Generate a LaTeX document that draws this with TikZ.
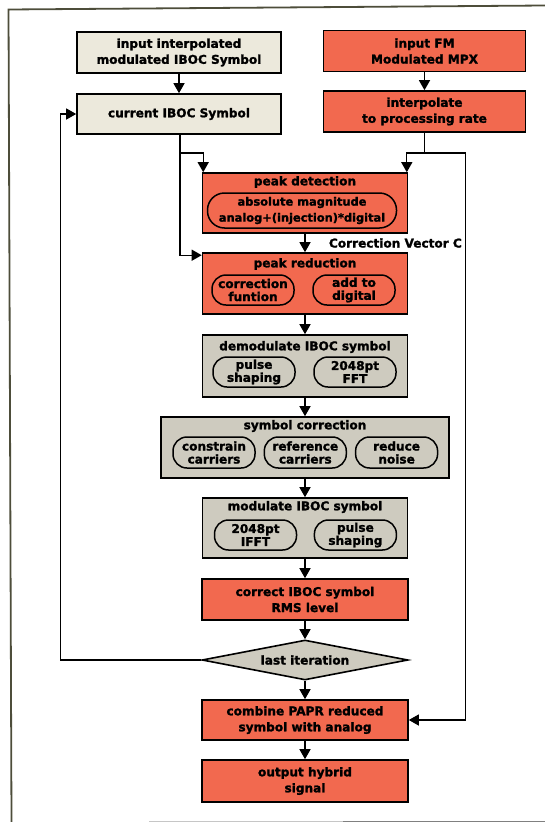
\documentclass[tikz,border=0pt]{standalone}
\usepackage{fontspec}
\setmainfont{DejaVu Sans}[BoldFeatures={FakeBold=1.6}]
\usetikzlibrary{arrows.meta,shapes.geometric,calc}
\definecolor{redbox}{HTML}{F2694F}
\definecolor{beigebox}{HTML}{ECE9DC}
\definecolor{graybox}{HTML}{CECBBF}
\definecolor{framecol}{HTML}{4D4D3A}
\begin{document}
\begin{tikzpicture}[x=1pt,y=-1pt,
  txt/.style={font=\bfseries\fontsize{12.1}{16}\selectfont, align=center, text=black, inner sep=0pt},
  ptxt/.style={font=\bfseries\fontsize{12.1}{13}\selectfont, align=center, text=black},
  box/.style={draw=black, line width=1.6pt, rectangle, inner sep=0pt, txt},
  redb/.style={box, fill=redbox},
  beigeb/.style={box, fill=beigebox},
  grayb/.style={box, fill=graybox},
  pill/.style={rectangle, rounded corners=14pt, draw=black, line width=1.5pt, inner sep=0pt, ptxt, minimum width=82, minimum height=30},
  conn/.style={line width=1.3pt, -{Triangle[length=10pt,width=11pt]}},
  plain/.style={line width=1.3pt}
]
\useasboundingbox (0,0) rectangle (545,822);
% page frame
\draw[framecol, line width=1.8pt] (11.5,822) -- (8.5,9.5) -- (545,5.5);
\draw[gray!45, line width=1.2pt] (149,821.3) -- (343,821.3);
\draw[gray, line width=1.5pt] (343,821.3) -- (545,821.3);

% top inputs
\node[beigeb, minimum width=204, minimum height=41] (in1) at (179,52.5) {input interpolated\\modulated IBOC Symbol};
\node[redb, minimum width=202, minimum height=41] (in2) at (424.5,51) {input FM\\Modulated MPX};
\node[beigeb, minimum width=204, minimum height=40] (cur) at (179,114) {current IBOC Symbol};
\node[redb, minimum width=202, minimum height=41] (interp) at (424.5,111.5) {interpolate\\to processing rate};

% peak detection
\node[redb, minimum width=205, minimum height=60] (pd) at (305,203) {};
\node[txt] (pdt) at (305,182) {peak detection};
\node[pill, rounded corners=17pt, minimum width=189, minimum height=35, font=\bfseries\fontsize{11.4}{16}\selectfont] (pdi) at (302,210.5) {absolute magnitude\\analog+(injection)*digital};

% peak reduction
\node[redb, minimum width=205, minimum height=61] (pr) at (305,283.5) {};
\node[txt] (prt) at (305,264) {peak reduction};
\node[pill] (pr1) at (253,290) {correction\\funtion};
\node[pill] (pr2) at (354,290) {add to\\digital};

% demodulate
\node[grayb, minimum width=205, minimum height=62] (dm) at (305,366) {};
\node[txt] (dmt) at (305,347) {demodulate IBOC symbol};
\node[pill] (dm1) at (254,372) {pulse\\shaping};
\node[pill] (dm2) at (355,372) {2048pt\\FFT};

% symbol correction
\node[grayb, minimum width=288, minimum height=61] (sc) at (305,447.5) {};
\node[txt] (sct) at (305,426) {symbol correction};
\node[pill, minimum height=31] (sc1) at (214,452.5) {constrain\\carriers};
\node[pill, minimum height=31] (sc2) at (305.3,452.5) {reference\\carriers};
\node[pill, minimum height=31] (sc3) at (396.6,452.5) {reduce\\noise};

% modulate
\node[grayb, minimum width=205, minimum height=60] (md) at (305,528) {};
\node[txt] (mdt) at (305,507) {modulate IBOC symbol};
\node[pill] (md1) at (255.5,535) {2048pt\\IFFT};
\node[pill] (md2) at (355.4,535) {pulse\\shaping};

% rms, decision, combine, output
\node[redb, minimum width=206, minimum height=41] (rms) at (305,599.5) {correct IBOC symbol\\RMS level};
\node[diamond, aspect=5, draw=black, line width=1.6pt, fill=graybox, inner sep=0pt, minimum width=206, minimum height=40, txt] (it) at (305,660) {last iteration};
\node[redb, minimum width=206, minimum height=40] (cb) at (305,720) {combine PAPR reduced\\symbol with analog};
\node[redb, minimum width=206, minimum height=42] (out) at (305,781) {output hybrid\\signal};

\node[txt, anchor=east] (cvc) at (462,243) {Correction Vector C};

% junctions
\coordinate (jl) at (180,153);
\coordinate (jr) at (424.5,153);
\coordinate (rr) at (465.8,153);
\coordinate (fb) at (60.8,660);
\coordinate (pdl) at ($(pd.north west)+(1.5,0)$);
\coordinate (pdr) at ($(pd.north east)+(-1.5,0)$);
\coordinate (prl) at ($(pr.north west)+(0,3)$);

% connectors
\draw[conn] (in1) -- (cur);
\draw[conn] (in2) -- (interp);
\draw[plain] (cur.south -| jl) -- (jl);
\draw[conn] (jl) -| (pdl);
\draw[conn] (jl) |- (prl);
\draw[plain] (interp.south) -- (jr);
\draw[conn] (jr) -| (pdr);
\draw[plain] (jr) -- (rr);
\draw[conn] (rr) |- (cb.east);
\draw[conn] (pd) -- (pr);
\draw[conn] (pr) -- (dm);
\draw[conn] (dm) -- (sc);
\draw[conn] (sc) -- (md);
\draw[conn] (md) -- (rms);
\draw[conn] (rms) -- (it);
\draw[conn] (it) -- (cb);
\draw[conn] (cb) -- (out);
\draw[conn] (it.west) -- (fb) |- (cur.west);
\end{tikzpicture}
\end{document}
